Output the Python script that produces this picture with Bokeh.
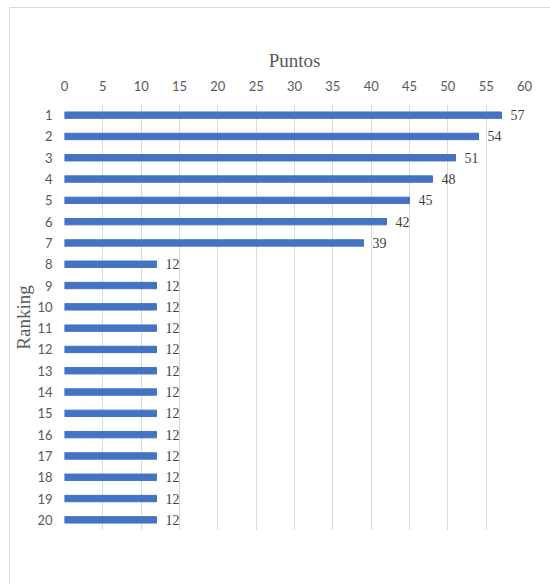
from bokeh.plotting import figure
from bokeh.models import ColumnDataSource, FactorRange, Range1d, FixedTicker, LabelSet
from bokeh.embed import file_html
from bokeh.resources import INLINE

# Ranking positions and their points
ranking = [str(i) for i in range(1, 21)]
puntos = [57, 54, 51, 48, 45, 42, 39, 12, 12, 12, 12, 12, 12, 12, 12, 12, 12, 12, 12, 12]
x_ticks = list(range(0, 61, 5))

source = ColumnDataSource(data=dict(
    ranking=ranking,
    puntos=puntos,
    etiqueta=[str(v) for v in puntos],
))

p = figure(
    width=541, height=577,
    y_range=FactorRange(factors=list(reversed(ranking)), range_padding=0),
    x_range=Range1d(0, 60),
    x_axis_location="above",
    output_backend="svg",
    toolbar_location=None,
    min_border_left=53, min_border_right=27,
    min_border_top=96, min_border_bottom=55,
    margin=(7, 0, 0, 9),
    styles={"border-left": "1px solid #d9d9d9", "border-top": "1px solid #d9d9d9"},
)
p.outline_line_color = None

p.hbar(y="ranking", left=0, right="puntos", height=0.3, source=source,
       fill_color="#4472C4", line_color="#4472C4")

p.add_layout(LabelSet(x="puntos", y="ranking", text="etiqueta", source=source,
                      x_offset=9, text_baseline="middle", text_font_size="14px",
                      text_font="Lato", text_color="#404040"))

# Top value axis
xa = p.xaxis[0]
xa.ticker = FixedTicker(ticks=x_ticks)
xa.axis_label = "Puntos"
xa.axis_label_text_font = "Liberation Serif"
xa.axis_label_text_font_size = "19px"
xa.axis_label_text_font_style = "normal"
xa.axis_label_text_color = "#595959"
xa.axis_label_standoff = 7
xa.major_label_text_font = "Lato"
xa.major_label_text_font_size = "13px"
xa.major_label_text_color = "#595959"
xa.major_label_standoff = 8
xa.axis_line_color = None
xa.major_tick_line_color = None
xa.minor_tick_line_color = None

# Left category axis
ya = p.yaxis[0]
ya.axis_label = "Ranking"
ya.axis_label_text_font = "Liberation Serif"
ya.axis_label_text_font_size = "19px"
ya.axis_label_text_font_style = "normal"
ya.axis_label_text_color = "#595959"
ya.axis_label_standoff = 0
ya.major_label_text_font = "Lato"
ya.major_label_text_font_size = "13px"
ya.major_label_text_color = "#595959"
ya.major_label_standoff = 6
ya.axis_line_color = None
ya.major_tick_line_color = None

p.xgrid.grid_line_color = "#d9d9d9"
p.xgrid.grid_line_width = 1
p.ygrid.grid_line_color = None

open("out.html", "w").write(file_html(p, INLINE))
